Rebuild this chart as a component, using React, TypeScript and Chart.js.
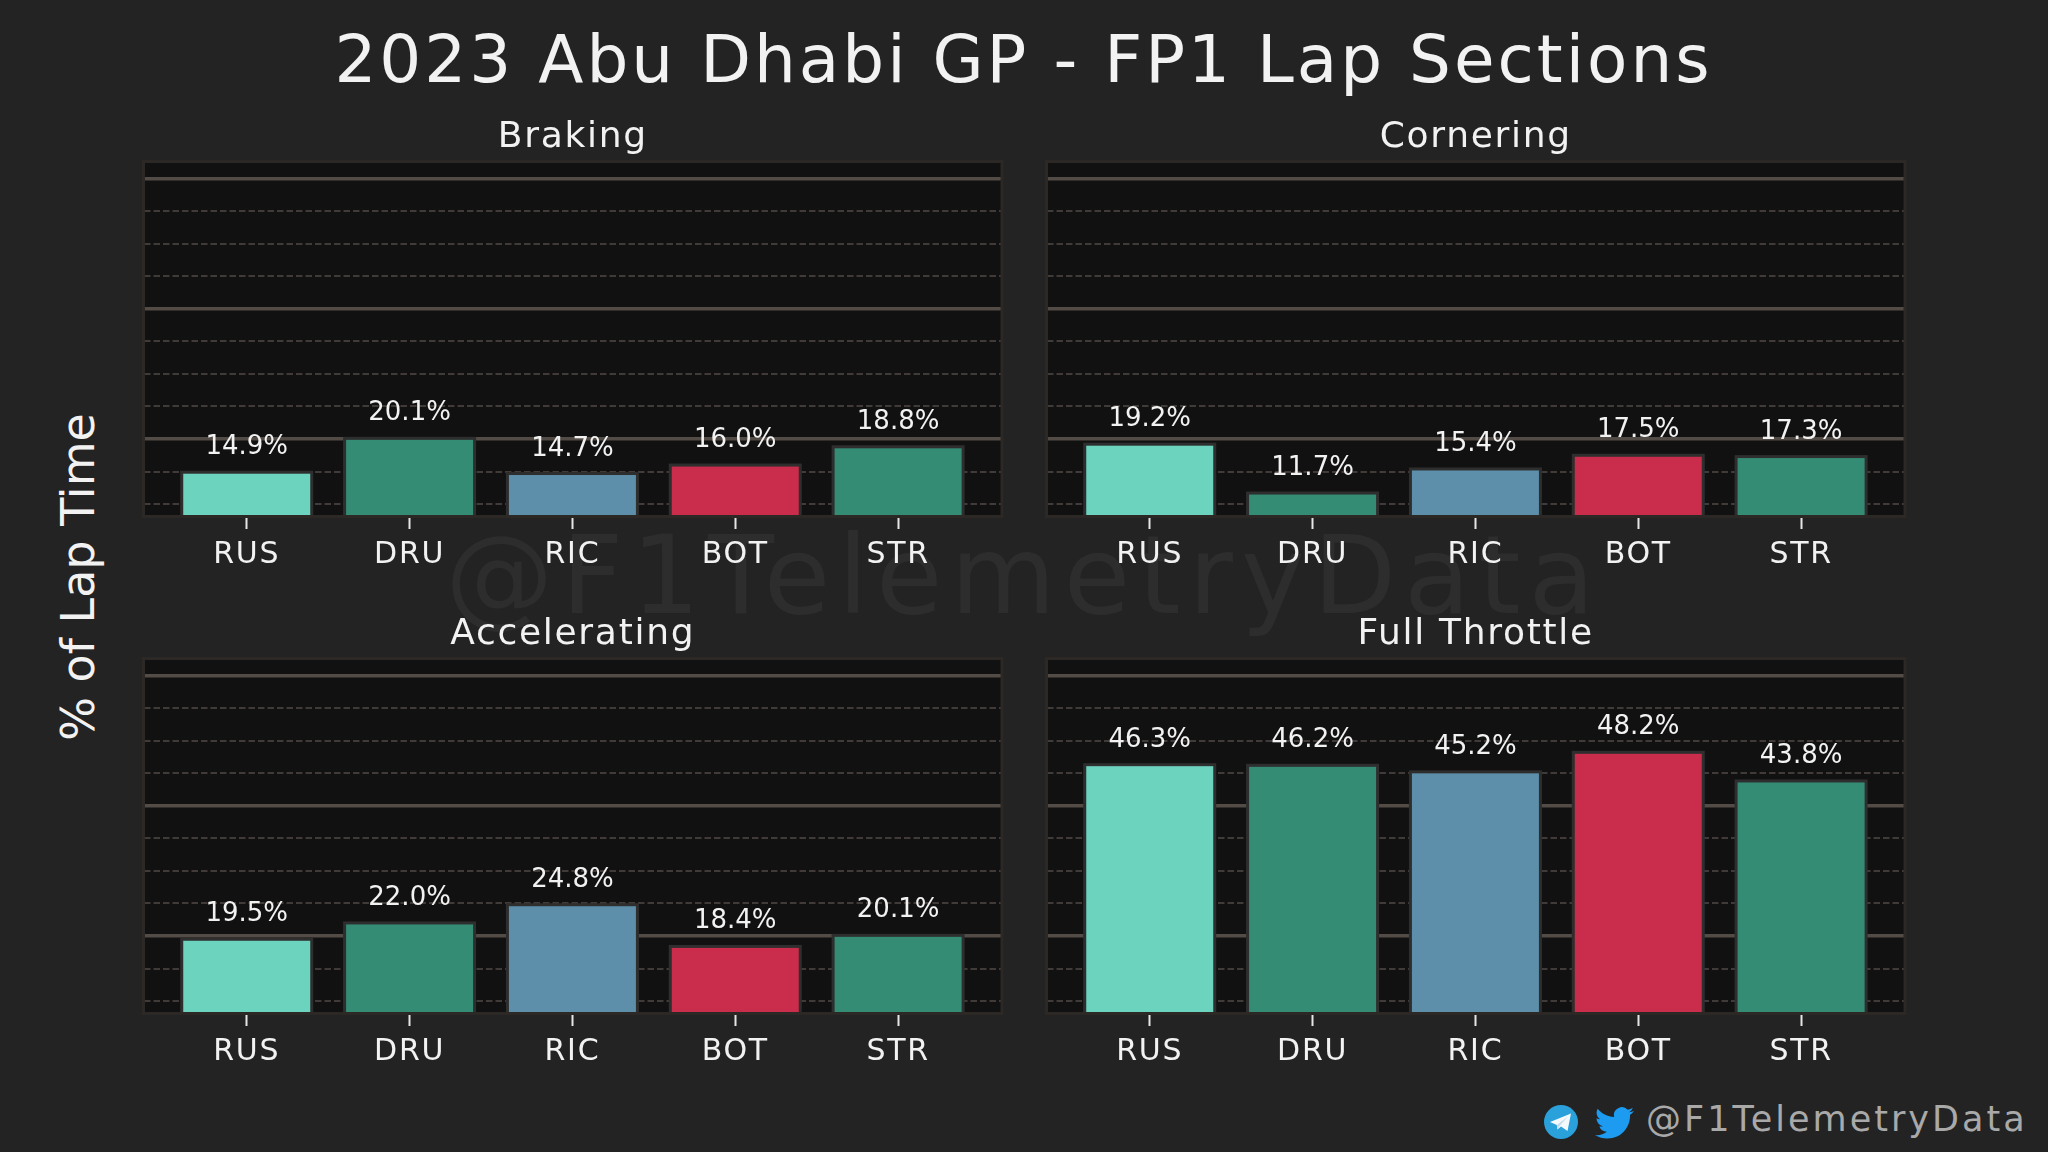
import { useEffect, useRef } from "react";
import { Chart, registerables } from "chart.js";

Chart.register(...registerables);

const FONT = "'DejaVu Sans'";

const drivers = ["RUS", "DRU", "RIC", "BOT", "STR"];
const barColors = ["#6CD3BF", "#358C75", "#5E8FAA", "#C92D4B", "#358C75"];

const braking = [14.9, 20.1, 14.7, 16.0, 18.8];
const cornering = [19.2, 11.7, 15.4, 17.5, 17.3];
const accelerating = [19.5, 22.0, 24.8, 18.4, 20.1];
const fullThrottle = [46.3, 46.2, 45.2, 48.2, 43.8];

const majorTicks = [20, 40, 60];

// bar outline, value labels and the axes frame go on top of what chart.js draws
const panelPlugin = {
  id: "panel",
  beforeDraw(chart: any) {
    const { ctx, chartArea: a } = chart;
    ctx.letterSpacing = "1.7px";
    ctx.save();
    ctx.fillStyle = "#111111";
    ctx.fillRect(a.left, a.top, a.right - a.left, a.bottom - a.top);
    ctx.restore();
  },
  afterDatasetsDraw(chart: any) {
    const { ctx, chartArea: a } = chart;
    const meta = chart.getDatasetMeta(0);
    const values = chart.data.datasets[0].data;

    ctx.save();
    ctx.beginPath();
    ctx.rect(a.left, a.top, a.right - a.left, a.bottom - a.top);
    ctx.clip();
    ctx.strokeStyle = "#2E2E2E";
    ctx.lineWidth = 3;
    meta.data.forEach((bar: any) => {
      ctx.strokeRect(bar.x - bar.width / 2, bar.y, bar.width, bar.base - bar.y);
    });
    ctx.restore();

    ctx.save();
    ctx.strokeStyle = "#2C2826";
    ctx.lineWidth = 3;
    ctx.strokeRect(a.left, a.top, a.right - a.left, a.bottom - a.top);
    ctx.restore();

    ctx.save();
    ctx.letterSpacing = "0px";
    ctx.font = `26px ${FONT}`;
    ctx.fillStyle = "#F2F2F2";
    ctx.textAlign = "center";
    ctx.textBaseline = "alphabetic";
    meta.data.forEach((bar: any, i: number) => {
      ctx.fillText(values[i].y.toFixed(1) + "%", bar.x, bar.y - 18);
    });
    ctx.restore();
  },
};

interface PanelProps {
  title: string;
  values: number[];
  left: number;
  top: number;
}

function Panel({ title, values, left, top }: PanelProps) {
  const canvasRef = useRef<HTMLCanvasElement>(null);

  useEffect(() => {
    const chart = new Chart(canvasRef.current as HTMLCanvasElement, {
      type: "bar",
      data: {
        datasets: [
          {
            data: values.map((v, i) => ({ x: i, y: v })),
            backgroundColor: barColors,
            borderWidth: 0,
            barThickness: 130,
          },
        ],
      },
      options: {
        animation: false,
        responsive: false,
        devicePixelRatio: 1,
        layout: {
          autoPadding: false,
          padding: { top: 16, left: 13.5, right: 18, bottom: 3.5 },
        },
        plugins: {
          legend: { display: false },
          tooltip: { enabled: false },
          title: {
            display: true,
            text: title,
            color: "#F2F2F2",
            font: { family: FONT, size: 36, weight: "normal" },
            padding: { top: 0, bottom: 2.3 },
          },
        },
        scales: {
          x: {
            type: "linear",
            offset: false,
            min: -0.634,
            max: 4.638,
            afterFit: (scale: any) => {
              scale.height = 60;
            },
            border: { display: false },
            grid: {
              offset: false,
              drawOnChartArea: false,
              tickLength: 12.5,
              tickWidth: 2,
              tickColor: "#E6E6E6",
            },
            ticks: {
              stepSize: 1,
              includeBounds: false,
              autoSkip: false,
              maxRotation: 0,
              padding: 8.5,
              color: "#F2F2F2",
              font: { family: FONT, size: 30 },
              callback: (value: any) => drivers[value],
            },
          },
          y: {
            min: 8.1,
            max: 62.6,
            afterFit: (scale: any) => {
              scale.width = 0;
            },
            border: {
              display: false,
              dash: (ctx: any) =>
                majorTicks.includes(ctx.tick?.value) ? [] : [6.5, 3],
            },
            grid: {
              drawTicks: false,
              color: (ctx: any) =>
                majorTicks.includes(ctx.tick?.value) ? "#524B46" : "#403B38",
              lineWidth: (ctx: any) =>
                majorTicks.includes(ctx.tick?.value) ? 3.5 : 2,
            },
            ticks: { display: false, stepSize: 5, includeBounds: false },
          },
        },
      },
      plugins: [panelPlugin],
    } as any);

    // Clean up the chart on component unmount
    return () => {
      chart.destroy();
    };
  }, []);

  return (
    <canvas
      ref={canvasRef}
      width={890}
      height={480}
      style={{ position: "absolute", left, top, display: "block" }}
    />
  );
}

const textStyle: any = {
  position: "absolute",
  fontFamily: FONT,
  whiteSpace: "nowrap",
  lineHeight: 1,
};

export default function App() {
  return (
    <div
      style={{
        position: "absolute",
        left: 0,
        top: 0,
        width: 2048,
        height: 1152,
        overflow: "hidden",
        background: "#232323",
      }}
    >
      <div
        style={{
          ...textStyle,
          left: 0,
          width: 2048,
          top: 522,
          textAlign: "center",
          fontSize: 108,
          color: "#2D2D2D",
          letterSpacing: 8,
        }}
      >
        @F1TelemetryData
      </div>
      <div
        style={{
          ...textStyle,
          left: 0,
          width: 2047,
          top: 27,
          textAlign: "center",
          fontSize: 66,
          color: "#F2F2F2",
          letterSpacing: 3,
        }}
      >
        2023 Abu Dhabi GP - FP1 Lap Sections
      </div>
      <div
        style={{
          ...textStyle,
          left: 78,
          top: 577,
          fontSize: 46,
          color: "#F2F2F2",
          letterSpacing: 0,
          transform: "translate(-50%, -50%) rotate(-90deg)",
        }}
      >
        % of Lap Time
      </div>

      <Panel title="Braking" values={braking} left={130} top={100} />
      <Panel title="Cornering" values={cornering} left={1033} top={100} />
      <Panel title="Accelerating" values={accelerating} left={130} top={597} />
      <Panel title="Full Throttle" values={fullThrottle} left={1033} top={597} />

      <svg
        width={34}
        height={34}
        viewBox="0 0 34 34"
        style={{ position: "absolute", left: 1544, top: 1105 }}
      >
        <circle cx={17} cy={17} r={17} fill="#2AA1DA" />
        <path d="M6 17 L27 8.5 L23.5 26 L17 21.5 L13.5 24.5 L12.8 20 Z" fill="#F4F9FC" />
        <path d="M12.8 20 L24 11.5 L15.5 21 L13.5 24.5 Z" fill="#C8DAEA" />
      </svg>
      <svg
        width={39}
        height={33}
        viewBox="0 1.5 24 20.5"
        preserveAspectRatio="none"
        style={{ position: "absolute", left: 1595, top: 1106 }}
      >
        <path
          fill="#1D9BF0"
          d="M23.953 4.57a10 10 0 01-2.825.775 4.958 4.958 0 002.163-2.723c-.951.555-2.005.959-3.127 1.184a4.92 4.92 0 00-8.384 4.482C7.69 8.095 4.067 6.13 1.64 3.162a4.822 4.822 0 00-.666 2.475c0 1.71.87 3.213 2.188 4.096a4.904 4.904 0 01-2.228-.616v.06a4.923 4.923 0 003.946 4.827 4.996 4.996 0 01-2.212.085 4.936 4.936 0 004.604 3.417 9.867 9.867 0 01-6.102 2.105c-.39 0-.779-.023-1.17-.067a13.995 13.995 0 007.557 2.209c9.053 0 13.998-7.496 13.998-13.985 0-.21 0-.42-.015-.63A9.935 9.935 0 0024 4.59z"
        />
      </svg>
      <div
        style={{
          ...textStyle,
          left: 1646,
          top: 1102,
          fontSize: 35,
          color: "#A9A9A9",
          letterSpacing: 3,
        }}
      >
        @F1TelemetryData
      </div>
    </div>
  );
}
